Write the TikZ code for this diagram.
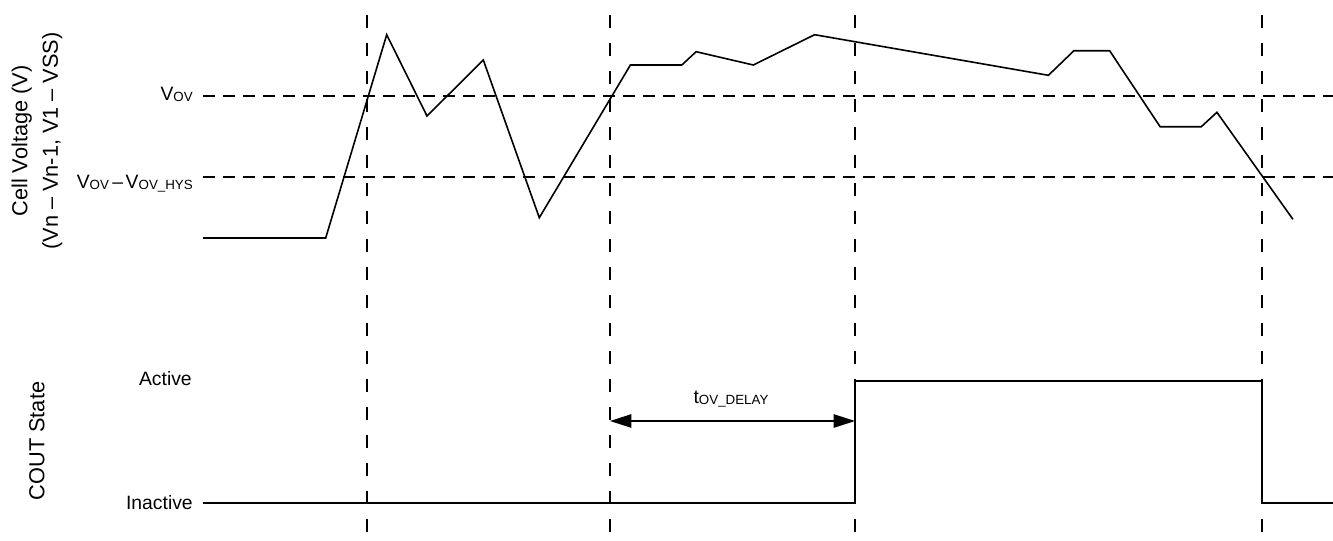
\documentclass[tikz,border=0pt]{standalone}
\usepackage{fontspec}
\setmainfont{Liberation Sans}
\usetikzlibrary{arrows.meta}
\newcommand{\sbs}[1]{\raisebox{-1pt}{\fontsize{10}{10}\selectfont #1}}
\begin{document}
\begin{tikzpicture}[x=0.75pt,y=-0.75pt,
  lbl/.style={font=\fontsize{14.5}{23}\selectfont, inner sep=0pt},
  axt/.style={font=\fontsize{16.3}{23}\selectfont, inner sep=0pt, rotate=90, align=center},
  vgrid/.style={line width=1.3pt, dash pattern=on 9.75pt off 11.25pt, dash phase=9.75pt},
  hgrid/.style={line width=1.3pt, dash pattern=on 9pt off 6pt},
  wave/.style={line width=1.2pt, line join=miter},
  tip/.style={Triangle[length=16pt,width=10pt]}]
\useasboundingbox (0,0) rectangle (1333,540);

% vertical dashed guides
\foreach \n/\x in {v1/367, v2/610, v3/855, v4/1262} {
  \coordinate (\n top) at (\x,0);
  \coordinate (\n bot) at (\x,540);
  \draw[vgrid] (\n top) -- (\n bot);
}

% horizontal threshold lines
\coordinate (ovL) at (203,96);   \coordinate (ovR) at (1333,96);
\coordinate (hyL) at (203,177);  \coordinate (hyR) at (1333,177);
\draw[hgrid] (ovL) -- (ovR);
\draw[hgrid] (hyL) -- (hyR);

% labels
\node[lbl, anchor=base east] (lov) at (193,100) {V\sbs{OV}};
\node[lbl, anchor=base east] (lhy) at (193,188) {V\sbs{OV}\kern2.5pt–\kern2pt V\sbs{OV\_HYS}};
\node[axt] (ycell) at (37,141) {Cell Voltage (V)\\(Vn – Vn-1, V1 – VSS)};
\node[axt] (ycout) at (37,441) {COUT State};
\node[lbl, anchor=base east] (lact) at (192,385) {Active};
\node[lbl, anchor=base east] (lina) at (193,509) {Inactive};

% cell voltage waveform
\draw[wave] (203,238) -- (325.7,238) -- (386.7,34.7) -- (427,116) -- (483.3,60)
  -- (539.3,217.7) -- (630.4,65) -- (681.8,65) -- (696.1,51.7) -- (753.3,65)
  -- (814.6,34.7) -- (1048.4,75.3) -- (1073.9,50.7) -- (1109.6,50.7)
  -- (1160.1,126.7) -- (1201.3,126.7) -- (1216.9,112.3) -- (1292.9,219.3);

% COUT waveform
\coordinate (c0) at (203,503);
\coordinate (c1) at (855,503);
\coordinate (c2) at (855,381);
\coordinate (c3) at (1262,381);
\coordinate (c4) at (1262,503);
\coordinate (c5) at (1333,503);
\draw[wave] (c0) -- (c1) -- (c2) -- (c3) -- (c4) -- (c5);

% delay arrow
\coordinate (dL) at (610,421);
\coordinate (dR) at (855,421);
\draw[line width=1.2pt, {Triangle[length=16pt,width=10pt]}-{Triangle[length=16pt,width=10pt]}] (dL) -- (dR);
\node[lbl, anchor=base] (ldel) at (731,403) {t\sbs{OV\_DELAY}};
\end{tikzpicture}
\end{document}
